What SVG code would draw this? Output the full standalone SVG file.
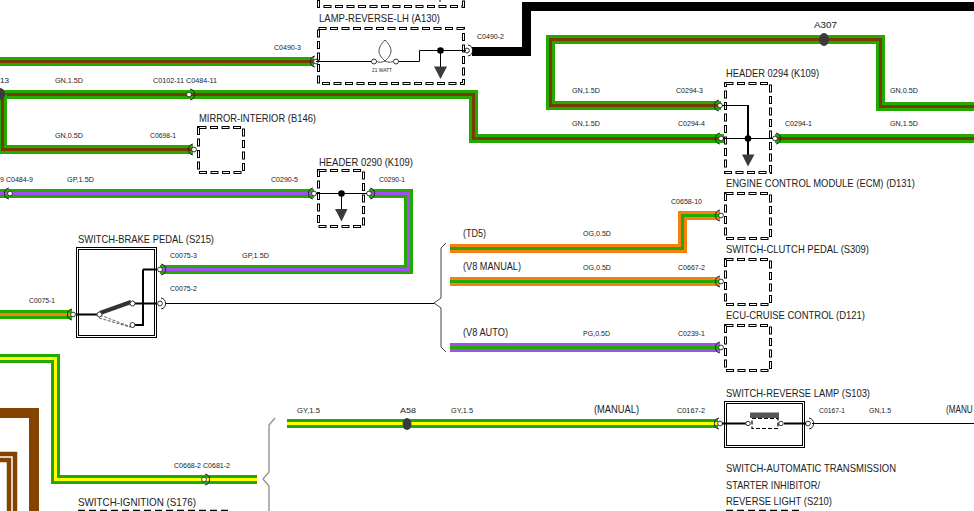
<svg xmlns="http://www.w3.org/2000/svg" width="974" height="511" viewBox="0 0 974 511">
<style>
text{font-family:"Liberation Sans",Arial,sans-serif;fill:#222;}
.s{font-size:8px;}
.l{font-size:11px;}
.w{fill:none;stroke-linejoin:miter;}
.o{stroke:#22aa00;stroke-width:9;}
.og{stroke:#f98010;stroke-width:9;}
.pu{stroke:#a050f0;stroke-width:9;}
.ib{stroke:#7a3a00;stroke-width:3;}
.ip{stroke:#a050f0;stroke-width:3;}
.io{stroke:#f98010;stroke-width:3;}
.iy{stroke:#ffff00;stroke-width:3;}
.ig{stroke:#22aa00;stroke-width:3;}
.bk{fill:none;stroke:#000;stroke-width:9;}
.br{fill:none;stroke:#844400;}
.d1{fill:none;stroke:#000;stroke-width:3;stroke-dasharray:8 3.500;}
.d2{fill:none;stroke:#fff;stroke-width:1;stroke-dasharray:6 5.500;stroke-dashoffset:-1;}
.t{fill:none;stroke:#000;stroke-width:1;}
.T{fill:none;stroke:#000;stroke-width:2;}
.sw{fill:none;stroke:#000;stroke-width:1;}
.brace{fill:none;stroke:#444;stroke-width:1;}
.brace2{fill:none;stroke:#999;stroke-width:1.5;}
.g{fill:#3a3a3a;}
.sp{fill:#3c3c3c;}
.c{fill:#fff;stroke:#333;stroke-width:1;}
</style>
<defs>
<g id="cL"><path d="M-1 -5.500A5.600 5.600 0 0 0 -1 5.500" fill="none" stroke="#222" stroke-width="1"/><circle r="2.400" class="c"/></g>
<g id="cR"><path d="M1 -5.500A5.600 5.600 0 0 1 1 5.500" fill="none" stroke="#222" stroke-width="1"/><circle r="2.400" class="c"/></g>
</defs>
<rect width="974" height="511" fill="#fff"/>
<g id="connectors">
<path class="bk" d="M472 51.500H526.500V6.500H974"/>
<path class="w o" d="M0 61.500H314"/><path class="w ib" d="M0 61.500H314"/>
<path class="w o" d="M0 94.500H473.500V138.500H724"/><path class="w ib" d="M0 94.500H473.500V138.500H724"/>
<path class="w o" d="M775 138.500H974"/><path class="w ib" d="M775 138.500H974"/>
<path class="w o" d="M721 105.500H550.500V39.500H880.500V106.500H974"/><path class="w ib" d="M721 105.500H550.500V39.500H880.500V106.500H974"/>
<path class="w o" d="M2.500 94.500V149.500H193"/><path class="w ib" d="M2.500 94.500V149.500H193"/>
<path class="w o" d="M0 193.500H314"/><path class="w ip" d="M0 193.500H314"/>
<path class="w o" d="M369 193.500H408.500V269.500H160"/><path class="w ip" d="M369 193.500H408.500V269.500H160"/>
<path class="w o" d="M0 314.500H72"/><path class="w io" d="M0 314.500H72"/>
<path class="w o" d="M0 358.500H55.500V479.500H257"/><path class="w iy" d="M0 358.500H55.500V479.500H257"/>
<path class="w o" d="M287 423.500H718"/><path class="w iy" d="M287 423.500H718"/>
<path class="w og" d="M450 248.500H682.500V215.500H720"/><path class="w ig" d="M450 248.500H682.500V215.500H720"/>
<path class="w og" d="M450 281.500H720"/><path class="w ig" d="M450 281.500H720"/>
<path class="w pu" d="M450 347.500H720"/><path class="w ig" d="M450 347.500H720"/>
<path class="br" stroke-width="10" d="M0 413H34V511"/>
<path class="br" stroke-width="4.500" d="M0 454H15V511"/>
<path class="br" stroke-width="4.500" d="M0 460H9V511"/>
<path class="t" d="M165 303.500H430"/>
<path class="t" d="M812 423.500H974"/>
<path class="brace" d="M446 243L441 248V298L434 303L441 308V347L446 352"/>
<path class="t" d="M428 303.500H434"/>
<path class="brace2" d="M275 418L269 425V472L263 479L269 486V511"/>
<g id="junctions">
<ellipse class="g" cx="0" cy="94" rx="5" ry="6"/>
<ellipse class="g" cx="824" cy="39.500" rx="5" ry="6.500"/>
<ellipse class="g" cx="407" cy="424" rx="4.500" ry="6"/>
</g>
<g id="pins">
<use href="#cL" x="316" y="61.500"/>
<use href="#cR" x="467" y="50.500"/>
<use href="#cR" x="189" y="94.500"/>
<use href="#cL" x="194" y="149.500"/>
<use href="#cL" x="10" y="193.500"/>
<use href="#cL" x="314" y="193.500"/>
<use href="#cR" x="369" y="193.500"/>
<use href="#cL" x="720" y="105.500"/>
<use href="#cL" x="721" y="138.500"/>
<use href="#cR" x="775" y="138.500"/>
<use href="#cL" x="721" y="215.500"/>
<use href="#cL" x="721" y="281.500"/>
<use href="#cL" x="721" y="347.500"/>
<use href="#cL" x="73" y="314.500"/>
<use href="#cR" x="160" y="269.500"/>
<use href="#cR" x="160" y="303.500"/>
<use href="#cR" x="204" y="479.500"/>
<use href="#cL" x="720" y="423.500"/>
<use href="#cR" x="808" y="423.500"/>
</g>
</g>
<g id="wire-labels">
<text class="s" x="274" y="50" textLength="27" lengthAdjust="spacingAndGlyphs">C0490-3</text>
<text class="s" x="477" y="39" textLength="27" lengthAdjust="spacingAndGlyphs">C0490-2</text>
<text class="s" x="0" y="83" textLength="9" lengthAdjust="spacingAndGlyphs">13</text>
<text class="s" x="55" y="83" textLength="28" lengthAdjust="spacingAndGlyphs">GN,1.5D</text>
<text class="s" x="153" y="83" textLength="64" lengthAdjust="spacingAndGlyphs">C0102-11 C0484-11</text>
<text class="s" x="55" y="138" textLength="28" lengthAdjust="spacingAndGlyphs">GN,0.5D</text>
<text class="s" x="150" y="138" textLength="26" lengthAdjust="spacingAndGlyphs">C0698-1</text>
<text class="s" x="0" y="182" textLength="33" lengthAdjust="spacingAndGlyphs">9 C0484-9</text>
<text class="s" x="67" y="182" textLength="27" lengthAdjust="spacingAndGlyphs">GP,1.5D</text>
<text class="s" x="271" y="182" textLength="27" lengthAdjust="spacingAndGlyphs">C0290-5</text>
<text class="s" x="379" y="182" textLength="26" lengthAdjust="spacingAndGlyphs">C0290-1</text>
<text class="s" x="170" y="258" textLength="27" lengthAdjust="spacingAndGlyphs">C0075-3</text>
<text class="s" x="242" y="258" textLength="27" lengthAdjust="spacingAndGlyphs">GP,1.5D</text>
<text class="s" x="170" y="291" textLength="27" lengthAdjust="spacingAndGlyphs">C0075-2</text>
<text class="s" x="29" y="303" textLength="26" lengthAdjust="spacingAndGlyphs">C0075-1</text>
<text class="l" x="463" y="237" textLength="23" lengthAdjust="spacingAndGlyphs">(TD5)</text>
<text class="s" x="583" y="236" textLength="28" lengthAdjust="spacingAndGlyphs">OG,0.5D</text>
<text class="s" x="671" y="204" textLength="31" lengthAdjust="spacingAndGlyphs">C0658-10</text>
<text class="l" x="463" y="270" textLength="58" lengthAdjust="spacingAndGlyphs">(V8 MANUAL)</text>
<text class="s" x="583" y="270" textLength="28" lengthAdjust="spacingAndGlyphs">OG,0.5D</text>
<text class="s" x="678" y="270" textLength="27" lengthAdjust="spacingAndGlyphs">C0667-2</text>
<text class="l" x="463" y="336" textLength="45" lengthAdjust="spacingAndGlyphs">(V8 AUTO)</text>
<text class="s" x="583" y="336" textLength="27" lengthAdjust="spacingAndGlyphs">PG,0.5D</text>
<text class="s" x="678" y="336" textLength="27" lengthAdjust="spacingAndGlyphs">C0239-1</text>
<text class="s" x="676" y="93" textLength="27" lengthAdjust="spacingAndGlyphs">C0294-3</text>
<text class="s" x="678" y="126" textLength="27" lengthAdjust="spacingAndGlyphs">C0294-4</text>
<text class="s" x="785" y="126" textLength="27" lengthAdjust="spacingAndGlyphs">C0294-1</text>
<text class="s" x="572" y="93" textLength="28" lengthAdjust="spacingAndGlyphs">GN,1.5D</text>
<text class="s" x="572" y="126" textLength="28" lengthAdjust="spacingAndGlyphs">GN,1.5D</text>
<text class="s" x="890" y="93" textLength="28" lengthAdjust="spacingAndGlyphs">GN,0.5D</text>
<text class="s" x="890" y="126" textLength="28" lengthAdjust="spacingAndGlyphs">GN,1.5D</text>
<text class="s" x="814" y="28" textLength="23" lengthAdjust="spacingAndGlyphs" style="font-size:9px">A307</text>
<text class="s" x="297" y="413" textLength="23" lengthAdjust="spacingAndGlyphs">GY,1.5</text>
<text class="s" x="400" y="413" textLength="16" lengthAdjust="spacingAndGlyphs">A58</text>
<text class="s" x="451" y="413" textLength="22" lengthAdjust="spacingAndGlyphs">GY,1.5</text>
<text class="l" x="594" y="413" textLength="45" lengthAdjust="spacingAndGlyphs">(MANUAL)</text>
<text class="s" x="677" y="413" textLength="28" lengthAdjust="spacingAndGlyphs">C0167-2</text>
<text class="s" x="819" y="413" textLength="26" lengthAdjust="spacingAndGlyphs">C0167-1</text>
<text class="s" x="869" y="413" textLength="22" lengthAdjust="spacingAndGlyphs">GN,1.5</text>
<text class="l" transform="translate(946 413) scale(.74 1)">(MANU</text>
<text class="s" x="174" y="468" textLength="56" lengthAdjust="spacingAndGlyphs">C0668-2 C0681-2</text>
</g>
<g id="node-top">
<path class="d1" d="M318.500 0V6.500H463.500V0"/><path class="d2" d="M318.500 0V6.500H463.500V0"/>
<path d="M440 0V2" class="t"/>
</g>
<g id="lamp-reverse">
<text class="l" x="319" y="22" textLength="121" lengthAdjust="spacingAndGlyphs">LAMP-REVERSE-LH (A130)</text>
<rect class="d1" x="318.500" y="28.500" width="145" height="55"/><rect class="d2" x="318.500" y="28.500" width="145" height="55"/>
<path class="t" d="M316 61.500H372M398 61.500H419.500V50.500H466"/>
<path d="M385 61C377 54 377 48 385 40C393 48 393 54 385 61C381 63 378 62 375 61M385 61C389 63 392 62 395 61" fill="none" stroke="#222" stroke-width=".8"/>
<circle class="c" cx="374" cy="61.500" r="2.500"/><circle class="c" cx="396" cy="61.500" r="2.500"/>
<text x="372" y="71.500" style="font-size:5.500px" textLength="20" lengthAdjust="spacingAndGlyphs">21 WATT</text>
<path class="t" d="M440.500 50V67"/><circle cx="440.500" cy="50.500" r="3.300"/>
<path class="sp" d="M434 66.500H447L440.500 79Z"/>
</g>
<g id="mirror-interior">
<text class="l" x="199" y="122" textLength="117" lengthAdjust="spacingAndGlyphs">MIRROR-INTERIOR (B146)</text>
<rect class="d1" x="198.500" y="127.500" width="45" height="45"/><rect class="d2" x="198.500" y="127.500" width="45" height="45"/>
</g>
<g id="header-0290">
<text class="l" x="319" y="166" textLength="94" lengthAdjust="spacingAndGlyphs">HEADER 0290 (K109)</text>
<rect class="d1" x="318.500" y="170.500" width="45" height="56"/><rect class="d2" x="318.500" y="170.500" width="45" height="56"/>
<path class="t" d="M316 193.500H367M341.500 193V209"/><circle cx="341.500" cy="193.500" r="3.300"/>
<path class="sp" d="M335 209H347.500L341.500 221.500Z"/>
</g>
<g id="header-0294">
<text class="l" x="726" y="77" textLength="93" lengthAdjust="spacingAndGlyphs">HEADER 0294 (K109)</text>
<rect class="d1" x="725.500" y="83.500" width="45" height="89"/><rect class="d2" x="725.500" y="83.500" width="45" height="89"/>
<path class="t" d="M722 105.500H748M723 138.500H773"/><path class="T" d="M748 105V156"/><circle cx="748" cy="138.500" r="3.300"/>
<path class="sp" d="M742 154.500H754.500L748 166.500Z"/>
</g>
<g id="ecm">
<text class="l" x="726" y="187" textLength="189" lengthAdjust="spacingAndGlyphs">ENGINE CONTROL MODULE (ECM) (D131)</text>
<rect class="d1" x="725.500" y="193.500" width="45" height="45"/><rect class="d2" x="725.500" y="193.500" width="45" height="45"/>
</g>
<g id="switch-clutch">
<text class="l" x="726" y="253" textLength="143" lengthAdjust="spacingAndGlyphs">SWITCH-CLUTCH PEDAL (S309)</text>
<rect class="d1" x="725.500" y="259.500" width="45" height="45"/><rect class="d2" x="725.500" y="259.500" width="45" height="45"/>
</g>
<g id="ecu-cruise">
<text class="l" x="726" y="319" textLength="139" lengthAdjust="spacingAndGlyphs">ECU-CRUISE CONTROL (D121)</text>
<rect class="d1" x="725.500" y="325.500" width="45" height="45"/><rect class="d2" x="725.500" y="325.500" width="45" height="45"/>
</g>
<g id="switch-brake">
<text class="l" x="78" y="243" textLength="136" lengthAdjust="spacingAndGlyphs">SWITCH-BRAKE PEDAL (S215)</text>
<rect class="sw" x="76.500" y="247.500" width="80" height="90"/>
<rect class="sw" x="78.500" y="249.500" width="76" height="86"/>
<path class="T" d="M76 314.500H99M135 303.500H157M135 325H144M143 269.500V325M143 269.500H157"/>
<path d="M100 313L131 302" stroke="#333" stroke-width="4"/>
<path d="M100 315L131 327M99 318L130 327" stroke="#333" stroke-width=".8" stroke-dasharray="3 1.500" fill="none"/>
<circle class="c" cx="99.500" cy="314.500" r="2.500"/><circle class="c" cx="132.500" cy="303.500" r="2.500"/><circle class="c" cx="132.500" cy="325" r="2.500"/>
</g>
<g id="switch-reverse">
<text class="l" x="726" y="397" textLength="144" lengthAdjust="spacingAndGlyphs">SWITCH-REVERSE LAMP (S103)</text>
<rect class="sw" x="724.500" y="401.500" width="80" height="46"/>
<rect class="sw" x="726.500" y="403.500" width="76" height="42"/>
<path class="T" d="M722 423.500H746M784 423.500H806"/>
<rect x="750" y="412.500" width="29" height="5.500" fill="#555"/>
<circle class="c" cx="748" cy="423.500" r="2.200"/><circle class="c" cx="781" cy="423.500" r="2.200"/>
<rect x="752" y="418.500" width="26" height="10" fill="#fff" stroke="#000" stroke-width="1.200" stroke-dasharray="4 2"/>
</g>
<g id="switch-inhibitor">
<text class="l" x="726" y="472" textLength="170" lengthAdjust="spacingAndGlyphs">SWITCH-AUTOMATIC TRANSMISSION</text>
<text class="l" x="726" y="489" textLength="94" lengthAdjust="spacingAndGlyphs">STARTER INHIBITOR/</text>
<text class="l" x="726" y="505" textLength="106" lengthAdjust="spacingAndGlyphs">REVERSE LIGHT (S210)</text>
<path d="M726 510.500H800" stroke="#000" stroke-width="1.500" stroke-dasharray="7 4"/>
</g>
<g id="switch-ignition">
<text class="l" x="78" y="506" textLength="118" lengthAdjust="spacingAndGlyphs">SWITCH-IGNITION (S176)</text>
<path d="M78 510.500H228" stroke="#000" stroke-width="1.500" stroke-dasharray="7 4"/>
</g>
</svg>
